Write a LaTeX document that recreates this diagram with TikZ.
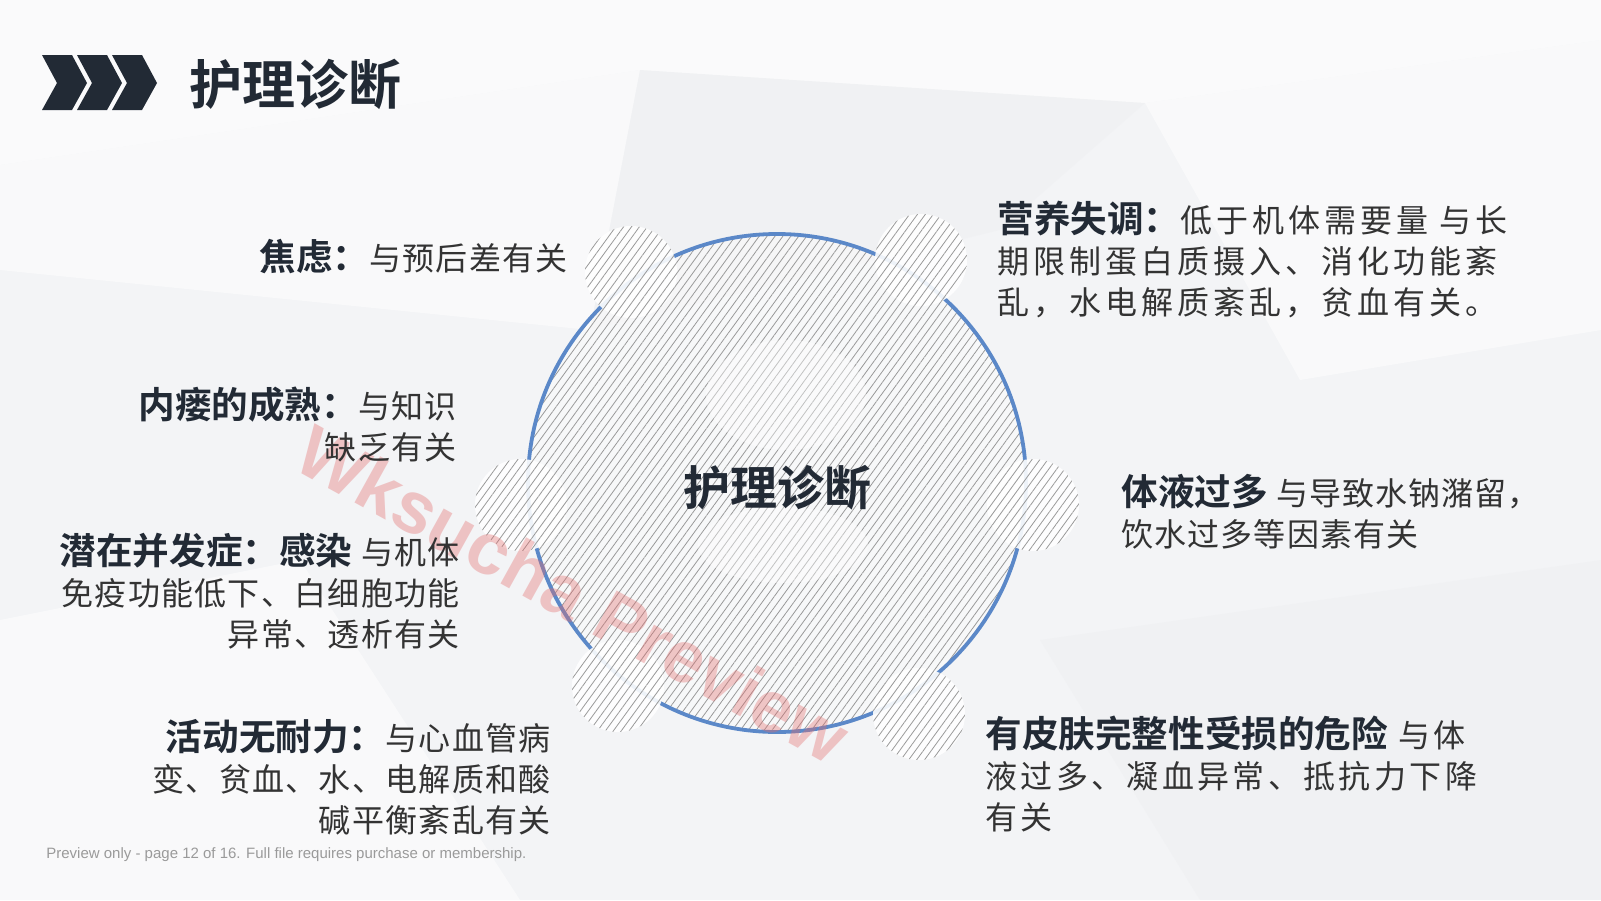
\documentclass[tikz,border=0pt]{standalone}
\usepackage{fontspec}
\setmainfont{Noto Sans CJK SC}[BoldFont={* Bold}]
\newfontfamily\latinsans{Liberation Sans}
\usetikzlibrary{patterns.meta,positioning}

\definecolor{ink}{HTML}{222A35}
\definecolor{bodytext}{HTML}{333333}
\definecolor{ringblue}{HTML}{5B88C8}
\definecolor{hatchgray}{HTML}{9A9A9A}
\definecolor{bgbase}{HTML}{F3F4F6}
\definecolor{bgdark}{HTML}{EBECEF}
\definecolor{wmred}{HTML}{E36B6B}
\definecolor{footgray}{HTML}{9A9A9A}

% bold label, set larger and untracked
\newcommand\lbl[1]{{\bfseries\fontsize{18.3}{20.5}\selectfont\addfontfeatures{LetterSpace=0}\color{ink}#1}}

\tikzset{
  diag/.style={font={\fontsize{16}{20.5}\selectfont\addfontfeatures{LetterSpace=#1}}, text=bodytext, inner sep=0pt},
  leftdiag/.style={diag=#1, anchor=east, align=right},
  rightdiag/.style={diag=#1, anchor=west, align=left},
  hatch/.style={pattern={Lines[angle=54,distance=3.2pt,line width=0.4pt]}, pattern color=hatchgray},
  hatchdot/.style={circle, minimum size=46pt, inner sep=0pt, hatch, preaction={fill=white, fill opacity=0.9}},
  chev/.style={fill=ink},
}

\begin{document}
\begin{tikzpicture}[x=0.5pt,y=-0.5pt]
  \useasboundingbox (0,0) rectangle (1601,900);

  % background
  \fill[bgbase] (0,0) rectangle (1601,900);
  \fill[white, opacity=0.6] (0,0) -- (1601,0) -- (1601,40) -- (1145,103) -- (640,70) -- (0,165) -- cycle;
  \fill[white, opacity=0.5] (0,165) -- (640,70) -- (590,330) -- (0,270) -- cycle;
  \fill[bgdark, opacity=0.3] (640,70) -- (1145,103) -- (1000,230) -- (590,330) -- cycle;
  \fill[white, opacity=0.5] (1145,103) -- (1601,40) -- (1601,330) -- (1300,380) -- cycle;
  \fill[bgdark, opacity=0.35] (1040,640) -- (1601,560) -- (1601,900) -- (1200,900) -- cycle;
  \fill[white, opacity=0.5] (0,620) -- (300,560) -- (520,900) -- (0,900) -- cycle;

  % header
  \foreach \dx in {0,35,70}
    \fill[chev, shift={(\dx,0)}] (42,55) -- (72,55) -- (87,83) -- (72,110) -- (42,110) -- (57,83) -- cycle;
  \node[anchor=west, inner sep=0pt, text=ink, font=\bfseries\fontsize{26.5}{30}\selectfont] (title) at (189,84) {护理诊断};

  % circle
  \coordinate (hub) at (777,483);
  \path[hatch, preaction={fill=white, fill opacity=0.4}] (hub) circle[radius=249];
  \draw[ringblue, line width=1.9pt] (hub) circle[radius=249];
  \node[hatchdot] (spot1) at (631,272) {};
  \node[hatchdot] (spot2) at (921,260) {};
  \node[hatchdot] (spot3) at (1033,505) {};
  \node[hatchdot] (spot4) at (919,714) {};
  \node[hatchdot] (spot5) at (618,686) {};
  \node[hatchdot] (spot6) at (521,505) {};
  \fill[white, opacity=0.4] (786,395) ellipse[x radius=80, y radius=55];
  \fill[white, opacity=0.4] (783,545) ellipse[x radius=85, y radius=38];
  \node[text=ink, font=\bfseries\fontsize{23.5}{28}\selectfont] (core) at (777,488) {护理诊断};

  % watermark
  \node[rotate=-29, text=wmred, opacity=0.36, font=\latinsans\bfseries\fontsize{36.5}{42}\selectfont] (mark) at (573,594) {Wksucha Preview};

  % left side
  \node[leftdiag=4] (jiaolv) at (568,257) {\lbl{焦虑：}与预后差有关};
  \node[leftdiag=4] (neilou) at (457,424) {\lbl{内瘘的成熟：}与知识\\缺乏有关};
  \node[leftdiag=4] (qianzai) at (460,591) {\lbl{潜在并发症：感染} 与机体\\免疫功能低下、白细胞功能\\异常、透析有关};
  \node[leftdiag=4] (huodong) at (551,777) {\lbl{活动无耐力：}与心血管病\\变、贫血、水、电解质和酸\\碱平衡紊乱有关};

  % right side
  \node[rightdiag=12.5] (yingyang) at (997,260) {\lbl{营养失调：}低于机体需要量 与长\\期限制蛋白质摄入、消化功能紊\\乱，水电解质紊乱，贫血有关。};
  \node[rightdiag=3.5] (tiye) at (1121,512) {\lbl{体液过多} 与导致水钠潴留，\\饮水过多等因素有关};
  \node[rightdiag=10.5] (pifu) at (985,774) {\lbl{有皮肤完整性受损的危险} 与体\\液过多、凝血异常、抵抗力下降\\有关};

  % footer
  \node[anchor=west, inner sep=0pt, text=footgray, font=\latinsans\fontsize{7.5}{9}\selectfont] (foot) at (46,855) {Preview only - page 12 of 16. Full file requires purchase or membership.};
\end{tikzpicture}
\end{document}
